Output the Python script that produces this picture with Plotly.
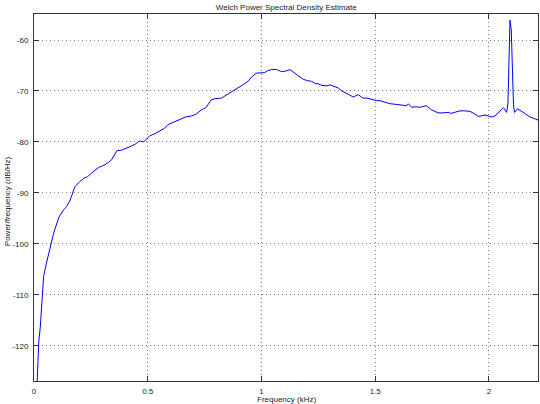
import plotly.graph_objects as go

title_text = "Welch Power Spectral Density Estimate"
x_label = "Frequency (kHz)"
y_label = "Power/frequency (dB/Hz)"

freq_khz = [
    0.013, 0.0211, 0.0277, 0.0356, 0.0422, 0.0519, 0.0686, 0.0774, 0.0862, 0.1091,
    0.1302, 0.1434, 0.1588, 0.1799, 0.2006, 0.2204, 0.2358, 0.2534, 0.2666, 0.2842,
    0.3018, 0.3216, 0.3414, 0.3647, 0.3854, 0.4087, 0.4294, 0.4457, 0.4646, 0.4822,
    0.4954, 0.5086, 0.5306, 0.5526, 0.5746, 0.5891, 0.6142, 0.6406, 0.6670, 0.6920,
    0.7109, 0.7360, 0.7550, 0.7800, 0.7989, 0.8240, 0.8429, 0.8605, 0.8825, 0.9045,
    0.9221, 0.9410, 0.9573, 0.9780, 0.9969, 1.0145, 1.0277, 1.0440, 1.0660, 1.0880,
    1.1069, 1.1245, 1.1377, 1.1540, 1.1685, 1.1830, 1.2037, 1.2200, 1.2345, 1.2490,
    1.2653, 1.2860, 1.3005, 1.3150, 1.3370, 1.3533, 1.3740, 1.3885, 1.4030, 1.4250,
    1.4369, 1.4470, 1.4633, 1.4765, 1.5060, 1.5205, 1.5350, 1.5469, 1.5645, 1.5865,
    1.6084, 1.6216, 1.6379, 1.6450, 1.6599, 1.6789, 1.6964, 1.7140, 1.7259, 1.7360,
    1.7479, 1.7624, 1.7770, 1.7976, 1.8210, 1.8329, 1.8429, 1.8548, 1.8724, 1.8944,
    1.9164, 1.9340, 1.9529, 1.9648, 1.9824, 1.9956, 2.0119, 2.0264, 2.0409, 2.0528,
    2.0638, 2.0704, 2.0779, 2.0836, 2.0880, 2.0924, 2.0981, 2.1034, 2.1078, 2.1122,
    2.1188, 2.1254, 2.1364, 2.1496, 2.1606, 2.1804, 2.1936, 2.2024, 2.2156,
]
psd_db = [
    -128.0, -119.1, -116.3, -110.0, -106.4, -104.3, -101.2, -99.9, -97.9, -94.8,
    -93.3, -92.7, -91.4, -88.8, -87.8, -87.1, -86.8, -86.1, -85.7, -85.0,
    -84.7, -84.2, -83.5, -81.7, -81.6, -81.2, -80.8, -80.4, -79.8, -80.0,
    -79.4, -78.8, -78.4, -77.8, -77.3, -76.6, -76.1, -75.7, -75.1, -74.9,
    -74.6, -73.7, -73.3, -71.7, -71.5, -71.4, -70.9, -70.3, -69.8, -69.2,
    -68.7, -68.1, -67.2, -66.5, -66.5, -66.4, -66.0, -65.8, -65.8, -66.2,
    -66.1, -65.8, -66.2, -66.8, -67.2, -67.7, -68.0, -68.1, -68.5, -68.6,
    -68.9, -69.0, -68.8, -69.0, -69.4, -70.0, -70.4, -70.8, -71.2, -70.7,
    -71.1, -71.4, -71.4, -71.6, -71.9, -71.9, -72.1, -72.4, -72.5, -72.6,
    -72.7, -72.9, -72.9, -72.5, -73.2, -73.1, -73.2, -73.0, -72.9, -73.3,
    -73.7, -74.0, -74.3, -74.3, -74.2, -74.4, -74.3, -74.1, -73.9, -73.9,
    -74.0, -74.4, -75.0, -74.9, -74.7, -74.9, -75.1, -74.9, -74.3, -73.9,
    -73.3, -73.7, -74.2, -72.3, -60.9, -56.1, -58.0, -67.8, -72.7, -74.2,
    -73.9, -73.5, -73.8, -74.1, -74.5, -75.1, -75.3, -75.5, -75.7,
]

x_ticks = [0, 0.5, 1, 1.5, 2]
x_tick_labels = ["0", "0.5", "1", "1.5", "2"]
y_ticks = [-120, -110, -100, -90, -80, -70, -60]
y_tick_labels = ["-120", "-110", "-100", "-90", "-80", "-70", "-60"]

FONT = "Liberation Sans, Arial, sans-serif"
TXT = "#222222"

fig = go.Figure()
fig.add_trace(go.Scatter(
    x=freq_khz, y=psd_db, mode="lines",
    line=dict(color="#0000ff", width=1),
    showlegend=False, hoverinfo="x+y",
))

axis_common = dict(
    automargin=False,
    showline=True, linecolor="#333333", linewidth=1, mirror="ticks",
    ticks="inside", ticklen=5, tickcolor="#333333", tickwidth=1,
    showgrid=True, gridcolor="#7a7a7a", griddash="1px,3px", gridwidth=1,
    zeroline=False,
    tickfont=dict(family=FONT, size=8, color=TXT),
)

fig.update_layout(
    template="none",
    width=540, height=404,
    margin=dict(l=34, r=2, t=14, b=23, autoexpand=False),
    paper_bgcolor="white", plot_bgcolor="white",
    font=dict(family=FONT, size=8, color=TXT),
    title=dict(text=title_text, x=0.53, xanchor="center", y=0.982, yanchor="middle",
               automargin=False, font=dict(family=FONT, size=8, color=TXT)),
    xaxis=dict(range=[0, 2.2156], tickvals=x_ticks, ticktext=x_tick_labels,
               ticklabelstandoff=2, **axis_common),
    yaxis=dict(range=[-126.9, -54.9], tickvals=y_ticks, ticktext=y_tick_labels,
               ticklabelstandoff=3, **axis_common),
    annotations=[
        dict(text=x_label, xref="paper", yref="paper", x=0.5, y=0,
             xanchor="center", yanchor="top", yshift=-12, showarrow=False,
             font=dict(family=FONT, size=8, color=TXT)),
        dict(text=y_label, xref="paper", yref="paper", x=0, y=0.49,
             xanchor="center", yanchor="middle", xshift=-27, textangle=-90,
             showarrow=False, font=dict(family=FONT, size=8, color=TXT)),
    ],
)

fig.write_html(
    "out.html",
    config={"displayModeBar": False},
    post_script="document.body.style.margin='0';document.body.style.padding='0';"
                "document.documentElement.style.overflow='hidden';",
)
